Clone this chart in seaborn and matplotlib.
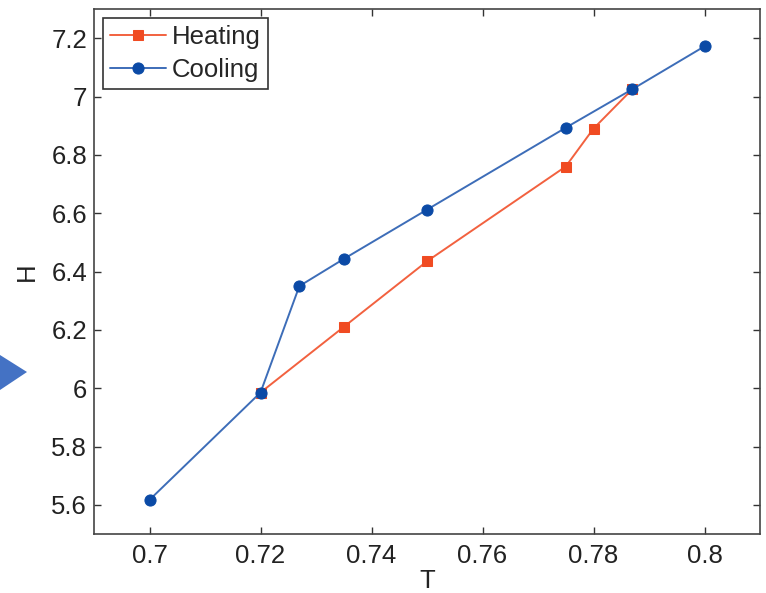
import matplotlib
matplotlib.use("Agg")
import matplotlib.pyplot as plt
import seaborn as sns
import numpy as np
from matplotlib.patches import Polygon

sns.set_theme(style="white")
plt.rcParams['font.family'] = ['Liberation Sans', 'DejaVu Sans']

heat_T = [0.72, 0.735, 0.75, 0.775, 0.78, 0.787]
heat_H = [5.985, 6.21, 6.435, 6.76, 6.89, 7.025]
cool_T = [0.70, 0.72, 0.727, 0.735, 0.75, 0.775, 0.787, 0.80]
cool_H = [5.617, 5.985, 6.35, 6.443, 6.612, 6.893, 7.025, 7.172]
xticks = [0.7, 0.72, 0.74, 0.76, 0.78, 0.8]
xticklabels = ["0.7", "0.72", "0.74", "0.76", "0.78", "0.8"]
yticks = [5.6, 5.8, 6.0, 6.2, 6.4, 6.6, 6.8, 7.0, 7.2]
yticklabels = ["5.6", "5.8", "6", "6.2", "6.4", "6.6", "6.8", "7", "7.2"]

fig = plt.figure(figsize=(7.66, 5.93), dpi=100)
ax = fig.add_axes([94/766, 1-534/593, (760-94)/766, (534-9)/593])

heat_line = '#F2613F'
heat_mark = '#F04B22'
cool_line = '#3D6DB8'
cool_mark = '#0B4AA6'

sns.lineplot(x=heat_T, y=heat_H, ax=ax, color=heat_line, marker='s', markersize=7.5,
             markerfacecolor=heat_mark, markeredgecolor=heat_mark, linewidth=1.4,
             sort=False, estimator=None, label='Heating')
sns.lineplot(x=cool_T, y=cool_H, ax=ax, color=cool_line, marker='o', markersize=8,
             markerfacecolor=cool_mark, markeredgecolor=cool_mark, linewidth=1.4,
             sort=False, estimator=None, label='Cooling')

ax.set_xlim(0.69, 0.81)
ax.set_ylim(5.5, 7.3)
ax.set_xticks(xticks)
ax.set_xticklabels(xticklabels)
ax.set_yticks(yticks)
ax.set_yticklabels(yticklabels)
ax.tick_params(direction='in', length=5, width=1, colors='#333333', labelcolor='#222222',
               labelsize=18.5, top=True, right=True, bottom=True, left=True, pad=5)
ax.tick_params(axis='x', pad=7)
for s in ax.spines.values():
    s.set_color('#444444')
    s.set_linewidth(1.2)
ax.set_xlabel('T', fontsize=18.5, labelpad=1, color='#222222')
ax.set_ylabel('H', fontsize=18.5, labelpad=9, color='#222222')

leg = ax.legend(loc='upper left', fontsize=18.5, frameon=True, fancybox=False,
                framealpha=1, edgecolor='#333333', borderpad=0.3, handlelength=2.15,
                handletextpad=0.23, labelspacing=0.32, borderaxespad=0.34)
leg.get_frame().set_linewidth(1.2)

arrow = Polygon([[0/766, 1-355/593], [27/766, 1-372/593], [0/766, 1-390/593]],
                closed=True, transform=fig.transFigure, facecolor='#4472C4', edgecolor='none')
fig.patches.append(arrow)

fig.savefig('out.png', dpi=100)
